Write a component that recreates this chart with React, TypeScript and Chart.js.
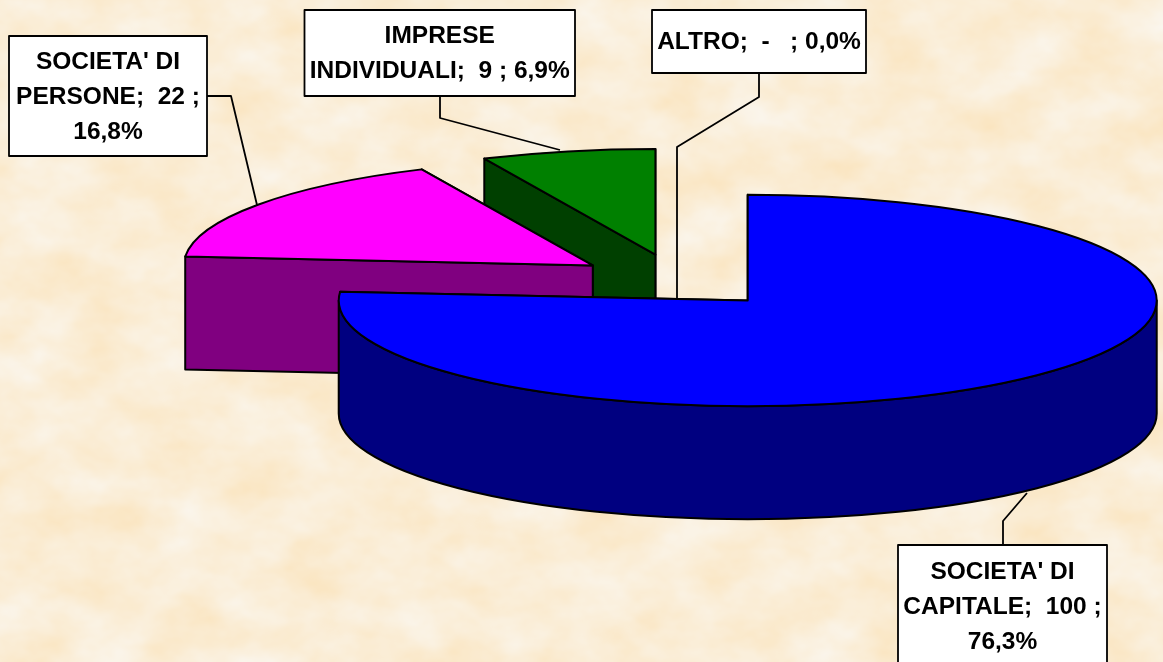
import React, { useEffect, useRef } from "react";
import { Chart, registerables } from "chart.js";

Chart.register(...registerables);

const categories = ["SOCIETA' DI CAPITALE", "SOCIETA' DI PERSONE", "IMPRESE INDIVIDUALI", "ALTRO"];
const values = [100, 22, 9, 0];
const topColors = ["#0000FF", "#FF00FF", "#008000", "#FFFF00"];
const wallColors = ["#000080", "#800080", "#004000", "#808000"];
const labelLines = [
  ["SOCIETA' DI", "CAPITALE;  100 ;", "76,3%"],
  ["SOCIETA' DI", "PERSONE;  22 ;", "16,8%"],
  ["IMPRESE", "INDIVIDUALI;  9 ; 6,9%"],
  ["ALTRO;  -   ; 0,0%"],
];

const W = 1163;
const H = 662;
const RADIUS = 409;
const SQUASH = 106 / 410;
const PIE_X = 677.6;
const PIE_Y = 280.8;
const EXPLODE = 103.6;
const DEPTH = 113;

// [left, top, right, bottom] of each label box, then its leader polyline
const boxes = [
  [898, 545, 1107, 670],
  [9, 36, 207, 156],
  [304.5, 10, 575, 96],
  [652, 10, 866, 73],
];
const leaders = [
  [[1003, 545], [1003, 521], [1027, 493]],
  [[207, 96], [231, 96], [257, 205]],
  [[440, 96], [440, 118], [560, 150]],
  [[759, 73], [759, 97], [677, 147], [677, 299]],
];

const noise =
  "<svg xmlns='http://www.w3.org/2000/svg' width='1163' height='662'>" +
  "<filter id='f' x='0' y='0' width='100%' height='100%' color-interpolation-filters='sRGB'>" +
  "<feTurbulence type='fractalNoise' baseFrequency='0.014 0.02' numOctaves='4' seed='7'/>" +
  "<feColorMatrix type='matrix' values='0 0 0 0 0.98  0.09 0 0 0 0.885  0.24 0 0 0 0.72  0 0 0 0 1'/>" +
  "</filter><rect width='100%' height='100%' filter='url(#f)'/></svg>";

const piePlugin = {
  id: "pie3d",
  beforeDatasetsDraw(chart: any) {
    const ctx = chart.ctx as CanvasRenderingContext2D;
    const arcs = chart.getDatasetMeta(0).data as any[];
    const cx = arcs[0].x;
    const cy = arcs[0].y;
    const h = DEPTH / SQUASH;

    arcs
      .map((arc, i) => ({ arc, i }))
      .reverse()
      .forEach(({ arc, i }) => {
        if (arc.circumference === 0) return;
        const { startAngle: a0, endAngle: a1, outerRadius: r } = arc;
        const mid = (a0 + a1) / 2;
        const place = () => {
          ctx.translate(PIE_X, PIE_Y);
          ctx.scale(1, SQUASH);
          ctx.translate(-cx, -cy);
          ctx.translate(Math.cos(mid) * EXPLODE, Math.sin(mid) * EXPLODE);
        };
        const shape = (build: () => void, fill: string | null) => {
          ctx.save();
          place();
          ctx.beginPath();
          build();
          ctx.restore();
          if (fill) {
            ctx.fillStyle = fill;
            ctx.fill();
          }
          ctx.lineWidth = 2;
          ctx.lineJoin = "round";
          ctx.strokeStyle = "#000";
          ctx.stroke();
        };
        const face = (t: number) => () => {
          ctx.moveTo(cx, cy);
          ctx.lineTo(cx + Math.cos(t) * r, cy + Math.sin(t) * r);
          ctx.lineTo(cx + Math.cos(t) * r, cy + Math.sin(t) * r + h);
          ctx.lineTo(cx, cy + h);
          ctx.closePath();
        };
        shape(face(a1), wallColors[i]);
        shape(face(a0), wallColors[i]);
        const w0 = Math.max(a0, 0);
        const w1 = Math.min(a1, Math.PI);
        if (w0 < w1) {
          shape(() => {
            ctx.arc(cx, cy, r, w0, w1);
            ctx.arc(cx, cy + h, r, w1, w0, true);
            ctx.closePath();
          }, wallColors[i]);
        }
        ctx.save();
        place();
        arc.draw(ctx);
        ctx.restore();
        shape(() => {
          ctx.moveTo(cx, cy);
          ctx.arc(cx, cy, r, a0, a1);
          ctx.closePath();
        }, null);
      });
    return false;
  },
  afterDraw(chart: any) {
    const ctx = chart.ctx as CanvasRenderingContext2D;
    ctx.save();
    ctx.strokeStyle = "#000";
    ctx.lineWidth = 1.8;
    leaders.forEach((pts) => {
      ctx.beginPath();
      pts.forEach(([x, y], k) => (k ? ctx.lineTo(x, y) : ctx.moveTo(x, y)));
      ctx.stroke();
    });
    ctx.font = 'bold 24.5px "Liberation Sans", Arial, sans-serif';
    ctx.textAlign = "center";
    ctx.textBaseline = "middle";
    boxes.forEach(([l, t, r, b], i) => {
      ctx.fillStyle = "#fff";
      ctx.fillRect(l, t, r - l, b - t);
      ctx.strokeRect(l, t, r - l, b - t);
      ctx.fillStyle = "#000";
      const lines = labelLines[i];
      const first = i === 0 ? 571 : t + (b - t) / 2 - ((lines.length - 1) * 35) / 2;
      lines.forEach((s, k) => ctx.fillText(s, (l + r) / 2, first + k * 35 + 1));
    });
    ctx.restore();
  },
};

export default function App() {
  const ref = useRef<HTMLCanvasElement>(null);
  useEffect(() => {
    document.body.style.margin = "0";
    const chart = new Chart(ref.current!, {
      type: "pie",
      data: {
        labels: categories,
        datasets: [
          {
            data: values,
            backgroundColor: topColors,
            borderWidth: 0,
            clip: false,
          } as any,
        ],
      },
      options: {
        responsive: false,
        animation: false,
        radius: RADIUS,
        layout: { padding: 0 },
        plugins: { legend: { display: false }, tooltip: { enabled: false } },
      } as any,
      plugins: [piePlugin],
    });
    return () => chart.destroy();
  }, []);
  return (
    <div
      style={{
        position: "absolute",
        left: 0,
        top: 0,
        width: W,
        height: H,
        overflow: "hidden",
        backgroundColor: "#FBEFD8",
        backgroundImage: `url("data:image/svg+xml,${encodeURIComponent(noise)}")`,
      }}
    >
      <canvas ref={ref} width={W} height={H} style={{ display: "block" }} />
    </div>
  );
}
